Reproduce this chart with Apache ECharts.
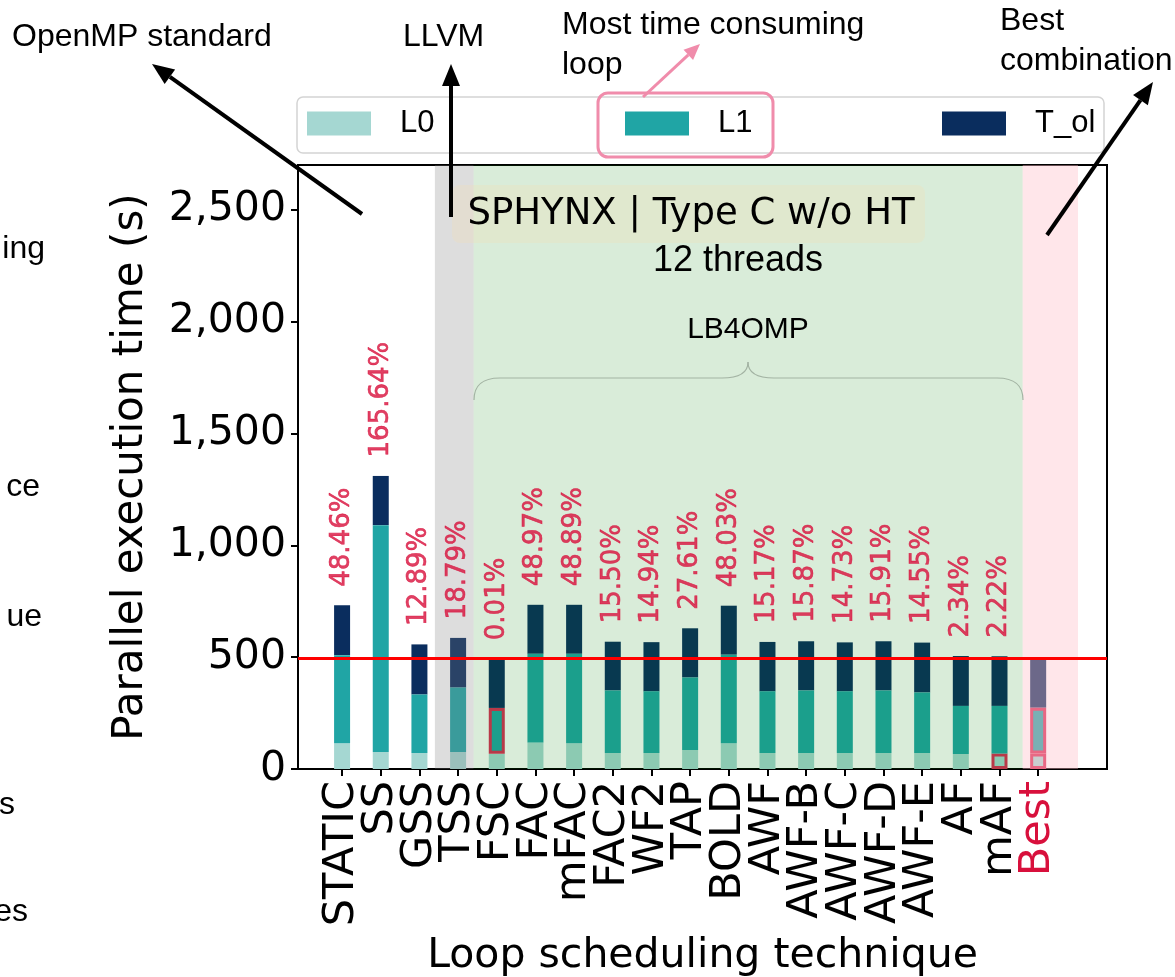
<!DOCTYPE html>
<html><head><meta charset="utf-8">
<script src="https://cdn.jsdelivr.net/npm/echarts@6/dist/echarts.min.js"></script>
<style>html,body{margin:0;padding:0;background:#fff}#c{width:1175px;height:977px}</style>
</head><body><div id="c"></div>
<script>
// ---------------- data ----------------
const categories = ['STATIC','SS','GSS','TSS','FSC','FAC','mFAC','FAC2','WF2','TAP','BOLD','AWF','AWF-B','AWF-C','AWF-D','AWF-E','AF','mAF','Best'];
const L0   = [115, 76, 72, 76, 68,119,115, 72, 72, 85,115, 72, 72, 72, 72, 72, 67, 69, 69];
const L1   = [394,1014,261,288,205,396,400,279,275,324,396,275,279,275,279,270,215,213,205];
const T_ol = [223,220,224,222,220,219,219,218,220,220,219,221,220,219,220,223,223,222,219];
const pctLabels = ['48.46%','165.64%','12.89%','18.79%','0.01%','48.97%','48.89%','15.50%','14.94%','27.61%','48.03%','15.17%','15.87%','14.73%','15.91%','14.55%','2.34%','2.22%',''];
const yTicks = [0,500,1000,1500,2000,2500];
const bestTotal = 493;
const boxedL0 = ['mAF','Best'];
const boxedL1 = ['FSC','Best'];

// ---------------- layout ----------------
const frameLeft = 298, frameRight = 1107, frameTop = 165, frameBottom = 769;
const xMin = -1.14, xMax = 19.78, yMax = 2700;
const ppu = (frameRight - frameLeft) / (xMax - xMin);
const barsLeft = frameLeft + (-0.5 - xMin) * ppu;
const barsRight = frameLeft + (categories.length - 0.5 - xMin) * ppu;

const C_L0 = '#a5d7d2', C_L1 = '#20a5a5', C_T = '#0a2d5e';
const CRIMSON = '#d8103c', BOX = '#d92d55';
const DV = 'DejaVu Sans', LS = 'Liberation Sans, Arial, sans-serif';

const totals = categories.map((c, i) => L0[i] + L1[i] + T_ol[i]);

function arrow(x1, y1, x2, y2, color, w, hl, hw) {
  const a = Math.atan2(y2 - y1, x2 - x1);
  const bx = x2 - hl * Math.cos(a), by = y2 - hl * Math.sin(a);
  const px = -Math.sin(a) * hw / 2, py = Math.cos(a) * hw / 2;
  return [
    {type: 'line', z: 100, shape: {x1, y1, x2: bx, y2: by}, style: {stroke: color, lineWidth: w}},
    {type: 'polygon', z: 100, shape: {points: [[x2, y2], [bx + px, by + py], [bx - px, by - py]]}, style: {fill: color}}
  ];
}
function txt(text, x, y, size, family, opts) {
  return Object.assign({type: 'text', z: 50, x, y,
    style: Object.assign({text, fontSize: size, fontFamily: family, fill: '#000', textVerticalAlign: 'middle', textAlign: 'left'}, opts || {})});
}
const braceStyle = {fill: 'none', stroke: '#a3b3a3', lineWidth: 1.2};
function bz(x1, y1, cpx1, cpy1, cpx2, cpy2, x2, y2) {
  return {type: 'bezierCurve', z: 45, shape: {x1, y1, cpx1, cpy1, cpx2, cpy2, x2, y2}, style: braceStyle};
}
function ln(x1, y1, x2, y2) {
  return {type: 'line', z: 45, shape: {x1, y1, x2, y2}, style: braceStyle};
}

const chart = echarts.init(document.getElementById('c'), null, {renderer: 'canvas'});

const graphics = [
  {type: 'rect', z: 1, shape: {x: 297, y: 97, width: 807, height: 56, r: 6}, style: {fill: '#fff', stroke: '#d4d4d4', lineWidth: 1.5}},
  {type: 'rect', z: 60, shape: {x: 598, y: 93, width: 175, height: 64, r: 10}, style: {fill: 'none', stroke: '#f08cab', lineWidth: 3}},
  {type: 'rect', z: 40, shape: {x: 452, y: 185, width: 473, height: 58, r: 8}, style: {fill: 'rgba(245,222,179,0.28)'}},
  txt('SPHYNX | Type C w/o HT', 691, 214, 37, DV, {textAlign: 'center'}),
  txt('12 threads', 738, 261, 36, LS, {textAlign: 'center'}),
  txt('LB4OMP', 748, 330, 30, LS, {textAlign: 'center'}),
  bz(474, 400, 474, 386, 481, 378, 500, 378),
  ln(500, 378, 722, 378),
  bz(722, 378, 740, 378, 748, 372, 748, 362),
  bz(748, 362, 748, 372, 756, 378, 774, 378),
  ln(774, 378, 997, 378),
  bz(997, 378, 1016, 378, 1023, 386, 1023, 400),
  txt('OpenMP standard', 12, 37, 32, LS),
  txt('LLVM', 403, 37, 32, LS),
  txt('Most time consuming', 562, 25, 32, LS),
  txt('loop', 562, 65, 32, LS),
  txt('Best', 1000, 21, 32, LS),
  txt('combination', 1000, 61, 32, LS),
  txt('ing', 45, 249, 32, LS, {textAlign: 'right'}),
  txt('ce', 40, 487, 32, LS, {textAlign: 'right'}),
  txt('ue', 42, 617, 32, LS, {textAlign: 'right'}),
  txt('s', 15, 805, 32, LS, {textAlign: 'right'}),
  txt('es', 28, 912, 32, LS, {textAlign: 'right'})
].concat(
  arrow(362, 214, 152, 64, '#000', 4, 22, 18),
  arrow(451, 217, 451, 64, '#000', 4, 22, 18),
  arrow(643, 97, 700, 44, '#f08cab', 3, 16, 14),
  arrow(1047, 235, 1153, 82, '#000', 4, 22, 18)
);

const legendCommon = {
  orient: 'horizontal', top: 108, padding: 0, itemWidth: 64, itemHeight: 24, selectedMode: false, z: 5,
  icon: 'rect',
  textStyle: {fontSize: 31, fontFamily: LS, color: '#000', padding: [0, 0, 0, 24]}
};

const option = {
  animation: false,
  backgroundColor: '#fff',
  legend: [
    Object.assign({}, legendCommon, {left: 307, data: ['L0']}),
    Object.assign({}, legendCommon, {left: 625, data: ['L1']}),
    Object.assign({}, legendCommon, {left: 942, data: ['T_ol']})
  ],
  grid: [
    {left: frameLeft, top: frameTop, width: frameRight - frameLeft, height: frameBottom - frameTop,
     outerBoundsMode: 'none', containLabel: false,
     show: true, borderColor: '#000', borderWidth: 2, backgroundColor: 'transparent'},
    {left: barsLeft, top: frameTop, width: barsRight - barsLeft, height: frameBottom - frameTop,
     outerBoundsMode: 'none', containLabel: false}
  ],
  xAxis: [
    {type: 'value', gridIndex: 0, min: xMin, max: xMax,
     axisLine: {show: false, onZero: false}, axisTick: {show: false}, axisLabel: {show: false}, splitLine: {show: false},
     name: 'Loop scheduling technique', nameLocation: 'middle', nameGap: 167,
     nameTextStyle: {fontFamily: DV, fontSize: 41, color: '#000'}},
    {type: 'category', gridIndex: 1, data: categories,
     axisLine: {show: false, onZero: false},
     axisTick: {show: true, alignWithLabel: true, length: 7, lineStyle: {color: '#000', width: 2}},
     axisLabel: {interval: 0, rotate: 90, margin: 12, fontFamily: DV, fontSize: 43, color: '#000',
       formatter: v => v === 'Best' ? '{r|' + v + '}' : v,
       rich: {r: {color: CRIMSON, fontFamily: DV, fontSize: 43}}}}
  ],
  yAxis: [
    {type: 'value', gridIndex: 0, min: 0, max: yMax,
     axisLine: {show: true, onZero: false, lineStyle: {color: '#000', width: 2}},
     axisTick: {show: true, length: 7, customValues: yTicks, lineStyle: {color: '#000', width: 2}},
     axisLabel: {customValues: yTicks, margin: 12, fontFamily: DV, fontSize: 41, color: '#000',
       formatter: v => Number(v).toLocaleString('en-US')},
     splitLine: {show: false},
     name: 'Parallel execution time (s)', nameLocation: 'middle', nameGap: 146,
     nameTextStyle: {fontFamily: DV, fontSize: 42, color: '#000'}},
    {type: 'value', gridIndex: 1, min: 0, max: yMax, show: false}
  ],
  series: [
    {name: 'L0', type: 'bar', xAxisIndex: 1, yAxisIndex: 1, stack: 'total', barWidth: 16, z: 3,
     itemStyle: {color: C_L0},
     data: L0.map((v, i) => boxedL0.includes(categories[i]) ? {value: v, itemStyle: {borderColor: BOX, borderWidth: 3}} : v)},
    {name: 'L1', type: 'bar', xAxisIndex: 1, yAxisIndex: 1, stack: 'total', barWidth: 16, z: 4,
     itemStyle: {color: C_L1},
     data: L1.map((v, i) => boxedL1.includes(categories[i]) ? {value: v, itemStyle: {borderColor: BOX, borderWidth: 3}} : v)},
    {name: 'T_ol', type: 'bar', xAxisIndex: 1, yAxisIndex: 1, stack: 'total', barWidth: 16, z: 2,
     itemStyle: {color: C_T}, data: T_ol},
    {type: 'scatter', xAxisIndex: 1, yAxisIndex: 1, z: 20, silent: true, symbolSize: 1,
     itemStyle: {color: 'rgba(0,0,0,0)'}, data: totals,
     label: {show: true, position: 'top', distance: 18, rotate: 90, align: 'left', verticalAlign: 'middle',
       formatter: p => pctLabels[p.dataIndex], color: CRIMSON, fontSize: 26, fontFamily: DV,
       textBorderColor: CRIMSON, textBorderWidth: 0.6}},
    {type: 'line', xAxisIndex: 0, yAxisIndex: 0, data: [], silent: true,
     markArea: {silent: true, z: 8, data: [
       [{xAxis: 2.4, itemStyle: {color: 'rgba(128,128,128,0.27)'}}, {xAxis: 3.4}],
       [{xAxis: 3.4, itemStyle: {color: 'rgba(0,128,0,0.15)'}}, {xAxis: 17.6}],
       [{xAxis: 17.6, itemStyle: {color: 'rgba(255,192,203,0.4)'}}, {xAxis: 19.03}]
     ]},
     markLine: {silent: true, z: 9, symbol: 'none', label: {show: false},
       lineStyle: {color: '#ff0000', width: 3, type: 'solid'}, data: [{yAxis: bestTotal}]}}
  ],
  graphic: graphics
};
chart.setOption(option);
</script></body></html>
